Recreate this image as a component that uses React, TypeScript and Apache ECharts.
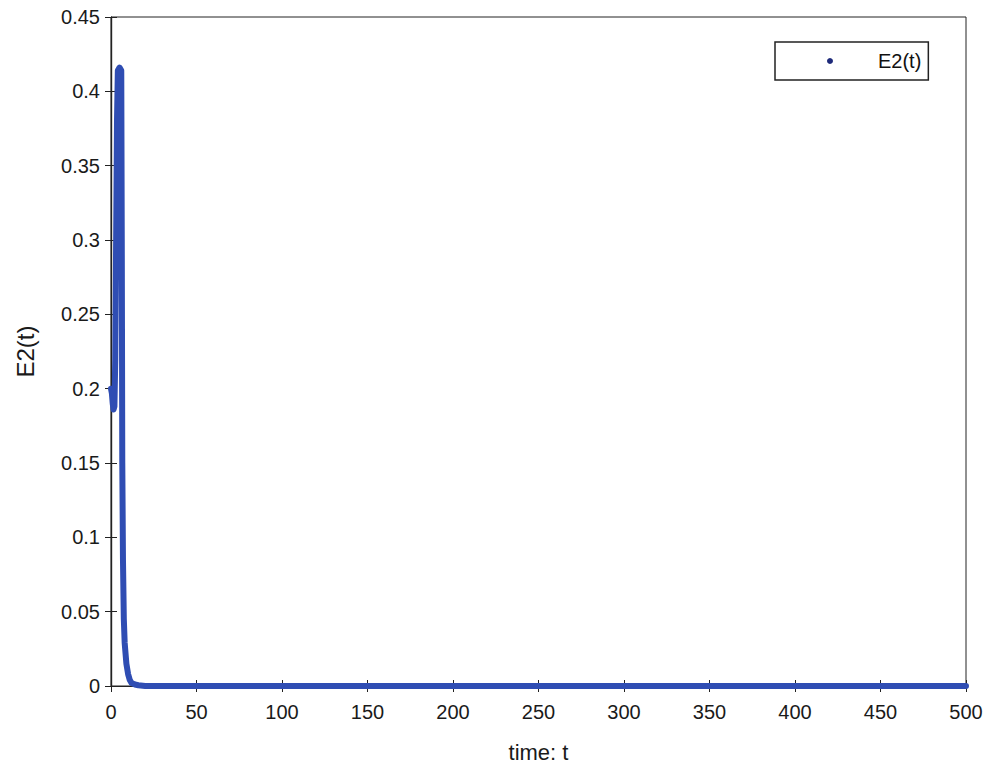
import React, { useEffect, useRef } from "react";
import * as echarts from "echarts";

const tValues = [0, 0.5, 1, 1.5, 2, 2.5, 3, 3.5, 4, 5, 6, 6.3, 6.6, 7, 7.5, 8, 9, 10, 11, 12, 14, 16, 20, 50, 100, 150, 200, 250, 300, 350, 400, 450, 500];
const e2Values = [0.2, 0.197, 0.19, 0.186, 0.188, 0.22, 0.3, 0.38, 0.414, 0.416, 0.414, 0.3, 0.15, 0.085, 0.045, 0.029, 0.015, 0.008, 0.004, 0.002, 0.001, 0.0005, 0, 0, 0, 0, 0, 0, 0, 0, 0, 0, 0];
const xTicks = [0, 50, 100, 150, 200, 250, 300, 350, 400, 450, 500];
const yTicks = [0, 0.05, 0.1, 0.15, 0.2, 0.25, 0.3, 0.35, 0.4, 0.45];

const FONT = "Liberation Sans, Arial, sans-serif";

export default function App() {
  const ref = useRef<HTMLDivElement>(null);
  useEffect(() => {
    if (!ref.current) return;
    const chart = echarts.init(ref.current, undefined, { renderer: "svg" });
    const data = tValues.map((t, i) => [t, e2Values[i]]);
    const xMin = xTicks[0];
    const xMax = xTicks[xTicks.length - 1];
    const yMin = yTicks[0];
    const yMax = yTicks[yTicks.length - 1];
    const labelStyle = { color: "#1a1a1a", fontSize: 20, fontFamily: FONT };
    chart.setOption({
      animation: false,
      backgroundColor: "#ffffff",
      grid: {
        left: 111,
        top: 17,
        width: 855,
        height: 669,
        show: true,
        borderColor: "#222",
        borderWidth: 1,
        backgroundColor: "transparent",
      },
      legend: {
        left: 775,
        top: 42,
        orient: "vertical",
        backgroundColor: "#fff",
        borderColor: "#222",
        borderWidth: 1.5,
        borderRadius: 0,
        padding: [9, 7, 9, 52],
        icon: "circle",
        itemWidth: 6,
        itemHeight: 6,
        textStyle: { color: "#111", fontSize: 20, fontFamily: FONT, padding: [0, 0, 0, 40] },
        data: [{ name: "E2(t)", itemStyle: { color: "#1e2a7a" } }],
      },
      xAxis: [
        {
          type: "value",
          min: xMin,
          max: xMax,
          interval: 50,
          position: "bottom",
          name: "time: t",
          nameLocation: "middle",
          nameGap: 55,
          nameTextStyle: { color: "#1a1a1a", fontSize: 22, fontFamily: FONT },
          axisLine: { show: true, lineStyle: { color: "#222", width: 1.2 } },
          axisTick: { show: true, inside: true, length: 6, lineStyle: { color: "#222" } },
          axisLabel: { ...labelStyle, margin: 16 },
          splitLine: { show: false },
        },
        {
          type: "value",
          min: xMin,
          max: xMax,
          interval: 50,
          position: "top",
          axisLine: { show: true, lineStyle: { color: "#222", width: 1.2 } },
          axisTick: { show: true, inside: true, length: 6, lineStyle: { color: "#222" } },
          axisLabel: { show: false },
          splitLine: { show: false },
        },
      ],
      yAxis: [
        {
          type: "value",
          min: yMin,
          max: yMax,
          interval: 0.05,
          position: "left",
          name: "E2(t)",
          nameLocation: "middle",
          nameGap: 74,
          nameTextStyle: { color: "#1a1a1a", fontSize: 24, fontFamily: FONT },
          axisLine: { show: true, lineStyle: { color: "#222", width: 1.2 } },
          axisTick: { show: true, inside: true, length: 6, lineStyle: { color: "#222" } },
          axisLabel: { ...labelStyle, margin: 11, formatter: (v: number) => String(+v.toFixed(2)) },
          splitLine: { show: false },
        },
        {
          type: "value",
          min: yMin,
          max: yMax,
          interval: 0.05,
          position: "right",
          axisLine: { show: true, lineStyle: { color: "#222", width: 1.2 } },
          axisTick: { show: true, inside: true, length: 6, lineStyle: { color: "#222" } },
          axisLabel: { show: false },
          splitLine: { show: false },
        },
      ],
      series: [
        {
          name: "E2(t)",
          type: "line",
          xAxisIndex: 0,
          yAxisIndex: 0,
          data,
          showSymbol: false,
          symbol: "none",
          lineStyle: { color: "#2f4db3", width: 6, cap: "round", join: "round" },
          itemStyle: { color: "#1e2a7a" },
          clip: false,
          z: 3,
        },
      ],
    });
    return () => chart.dispose();
  }, []);
  return <div ref={ref} style={{ width: 989, height: 775, position: "absolute", left: 0, top: 0 }} />;
}
